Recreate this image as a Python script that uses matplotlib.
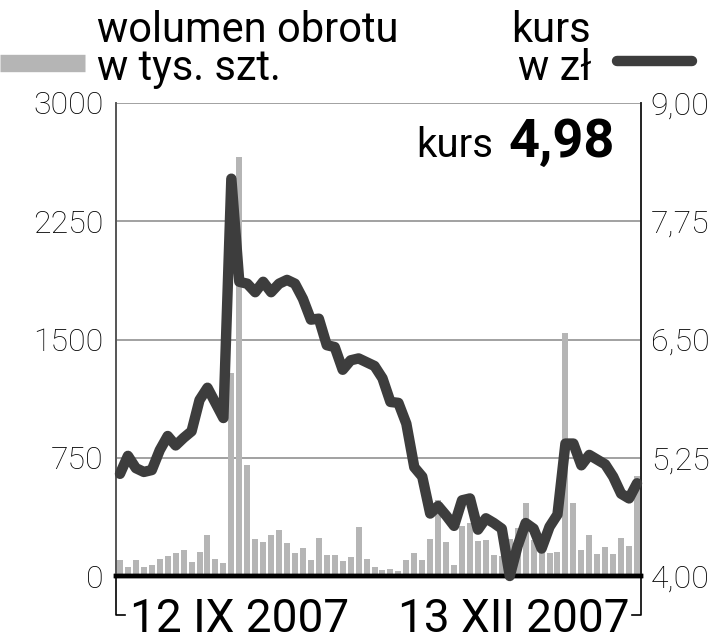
import matplotlib.pyplot as plt
from matplotlib.lines import Line2D
from matplotlib.ticker import FixedLocator, FuncFormatter

plt.rcParams['font.family'] = ['Roboto', 'DejaVu Sans']

# daily turnover (thousand shares), 12 IX 2007 .. 13 XII 2007
volume = [100, 60, 100, 60, 70, 105, 125, 145, 165, 90,
          150, 260, 105, 80, 1290, 2655, 705, 233, 216, 258,
          292, 209, 148, 176, 99, 239, 131, 131, 95, 122,
          311, 106, 60, 38, 42, 32, 99, 148, 99, 233,
          482, 217, 68, 317, 334, 220, 226, 131, 130, 233,
          305, 465, 230, 170, 144, 154, 1540, 465, 163, 258,
          138, 182, 138, 239, 192, 634]

# closing price in PLN
price = [5.08, 5.27, 5.14, 5.10, 5.12, 5.33, 5.48, 5.38, 5.46, 5.53,
         5.86, 5.99, 5.83, 5.67, 8.20, 7.11, 7.09, 7.00, 7.11, 7.00,
         7.09, 7.13, 7.09, 6.93, 6.71, 6.72, 6.44, 6.42, 6.18, 6.28,
         6.30, 6.26, 6.22, 6.09, 5.84, 5.83, 5.61, 5.15, 5.05, 4.66,
         4.74, 4.64, 4.53, 4.80, 4.82, 4.49, 4.61, 4.56, 4.50, 4.00,
         4.32, 4.56, 4.50, 4.29, 4.52, 4.65, 5.40, 5.40, 5.17, 5.28,
         5.23, 5.18, 5.05, 4.87, 4.82, 4.98]

vol_ticks = [0, 750, 1500, 2250, 3000]
price_ticks = [4.00, 5.25, 6.50, 7.75, 9.00]
date_labels = ['12 IX 2007', '13 XII 2007']
last_price = '4,98'

BAR = '#b5b5b5'
LINE = '#3d3d3d'

fig = plt.figure(figsize=(7.12, 6.4), dpi=100)
ax = fig.add_axes([116 / 712, 64 / 640, 525 / 712, 473 / 640])
ax2 = ax.twinx()

x = list(range(len(volume)))
ax.bar(x, volume, width=0.75, color=BAR, zorder=2)
ax.set_xlim(-0.5, len(volume) - 0.5)
ax.set_ylim(0, 3000)
ax.yaxis.set_major_locator(FixedLocator(vol_ticks))
ax.grid(axis='y', color='#9a9a9a', linewidth=1.3, zorder=0)
ax.set_xticks([])
ax.tick_params(axis='y', length=0, pad=9, labelsize=23)
for lab in ax.get_yticklabels():
    lab.set_fontweight('light')

ax2.plot(x, price, color=LINE, linewidth=7.5, solid_joinstyle='round',
         solid_capstyle='round', clip_on=False, zorder=3)
ax2.set_ylim(4.0, 9.0)
ax2.yaxis.set_major_locator(FixedLocator(price_ticks))
ax2.yaxis.set_major_formatter(FuncFormatter(lambda v, p: f'{v:.2f}'.replace('.', ',')))
ax2.tick_params(axis='y', length=0, pad=7, labelsize=23)
for lab in ax2.get_yticklabels():
    lab.set_fontweight('light')

for a in (ax, ax2):
    a.spines['top'].set_visible(False)
    a.spines['left'].set_color('#555555')
    a.spines['left'].set_linewidth(1.2)
    a.spines['right'].set_color('#222222')
    a.spines['right'].set_linewidth(1.2)
    a.spines['bottom'].set_color('black')
    a.spines['bottom'].set_linewidth(3.2)

# date brackets under the axis
yb = -0.082
ax.add_line(Line2D([0, 0, 0.017], [0, yb, yb], transform=ax.transAxes,
                   color='black', linewidth=1.2, clip_on=False))
ax.add_line(Line2D([1, 1, 0.983], [0, yb, yb], transform=ax.transAxes,
                   color='black', linewidth=1.2, clip_on=False))
ax.text(0.027, -0.118, date_labels[0], transform=ax.transAxes, ha='left',
        va='baseline', fontsize=33)
ax.text(0.979, -0.118, date_labels[1], transform=ax.transAxes, ha='right',
        va='baseline', fontsize=33)

# last price box
ax2.text(0.718, 0.886, 'kurs', transform=ax2.transAxes, ha='right',
         va='baseline', fontsize=29)
ax2.text(0.748, 0.886, last_price, transform=ax2.transAxes, ha='left',
         va='baseline', fontsize=39, fontweight='bold')

# header / legend
fig.text(97 / 712, 1 - 42 / 640, 'wolumen obrotu', ha='left', va='baseline', fontsize=30)
fig.text(97 / 712, 1 - 80 / 640, 'w tys. szt.', ha='left', va='baseline', fontsize=30)
fig.text(591 / 712, 1 - 42 / 640, 'kurs', ha='right', va='baseline', fontsize=30)
fig.text(591 / 712, 1 - 80 / 640, 'w zł', ha='right', va='baseline', fontsize=30)
fig.add_artist(Line2D([0, 85 / 712], [1 - 63 / 640] * 2, color=BAR,
                      linewidth=12.5, solid_capstyle='butt'))
fig.add_artist(Line2D([617 / 712, 692 / 712], [1 - 61 / 640] * 2, color=LINE,
                      linewidth=7.5, solid_capstyle='round'))

fig.savefig('out.png', dpi=100, facecolor='white')
